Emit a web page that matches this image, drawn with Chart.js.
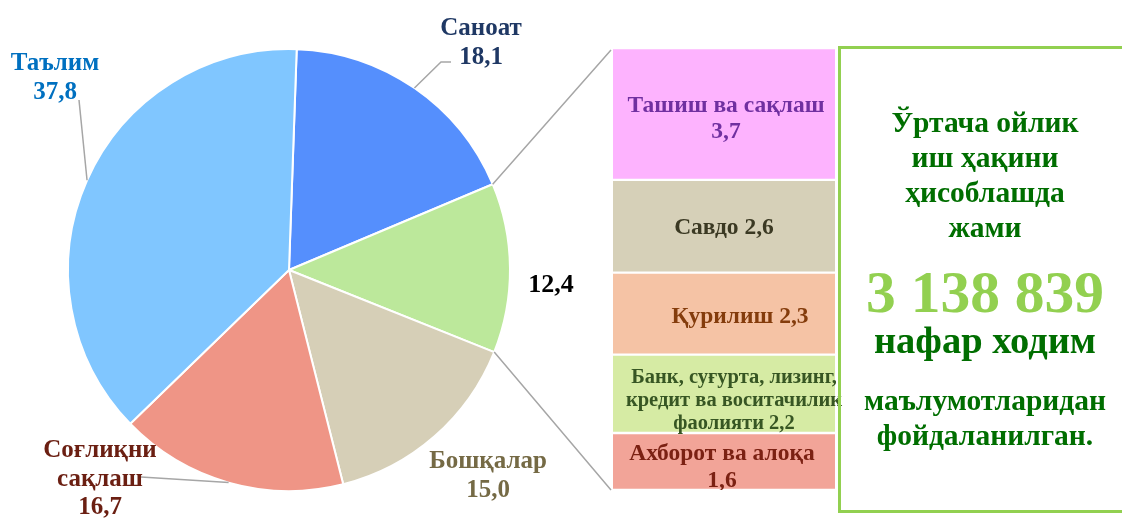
<!DOCTYPE html>
<html>
<head>
<meta charset="utf-8">
<script src="https://cdn.jsdelivr.net/npm/chart.js@4.4.1/dist/chart.umd.min.js"></script>
<style>
  body { margin: 0; background: #fff; }
  #wrap { position: relative; width: 1122px; height: 519px; overflow: hidden; font-family: "Liberation Serif", serif; font-weight: bold; }
  #pie { position: absolute; left: 0; top: 0; }
  #bar { position: absolute; left: 613px; top: 48px; }
  #box { position: absolute; left: 838px; top: 46px; width: 320px; height: 461px; border: 3px solid #92d050; }
  .note { position: absolute; left: 848px; width: 274px; text-align: center; color: #006e00; white-space: nowrap; }
  .t1 { font-size: 29.5px; line-height: 35px; }
  .big { font-size: 59.5px; line-height: 62px; color: #92d050; }
  .t2 { font-size: 38.5px; line-height: 40px; }
</style>
</head>
<body>
<div id="wrap">
  <canvas id="pie" width="1122" height="519"></canvas>
  <canvas id="bar" width="232" height="442"></canvas>
  <div id="box"></div>
  <div class="note t1" style="top:104.5px">Ўртача ойлик<br>иш ҳақини<br>ҳисоблашда<br>жами</div>
  <div class="note big" style="top:261px">3 138 839</div>
  <div class="note t2" style="top:320px">нафар ходим</div>
  <div class="note t1" style="top:382.5px">маълумотларидан<br>фойдаланилган.</div>
</div>
<script>
// pie: share of employees by sector, %
const pieLabels = ["Саноат", "Бошқа тармоқлар", "Бошқалар", "Соғлиқни сақлаш", "Таълим"];
const pieValues = [18.1, 12.4, 15.0, 16.7, 37.8];
const pieColors = ["#558ffd", "#bce89b", "#d6cfb7", "#ef9586", "#80c6ff"];

// breakdown of the 12,4 slice
const barLabels = [["Ташиш ва сақлаш"], ["Савдо"], ["Қурилиш"], ["Банк, суғурта, лизинг,", "кредит ва воситачилик", "фаолияти"], ["Ахборот ва алоқа"]];
const barValues = [3.7, 2.6, 2.3, 2.2, 1.6];
const barColors = ["#fdb3fe", "#d6d0b8", "#f5c3a5", "#d6eba4", "#f2a498"];
const barValueInline = [false, true, true, true, false];

const fmt = v => v.toFixed(1).replace(".", ",");
const FONT = '"Liberation Serif", serif';

// label look for the bar segments
const barText = [
  { color: "#7030a0", size: 23.5, lh: 26, dx: 2, dy: 3 },
  { color: "#3b3923", size: 23.5, lh: 26, dx: 0, dy: 0 },
  { color: "#843c0c", size: 23.5, lh: 26, dx: 16, dy: 2 },
  { color: "#375623", size: 20.5, lh: 23, dx: 10, dy: 5 },
  { color: "#7b2113", size: 23.5, lh: 27, dx: -2, dy: 4 },
];

const barLabelPlugin = {
  id: "barLabels",
  afterDatasetsDraw(chart) {
    const ctx = chart.ctx;
    ctx.save();
    ctx.textAlign = "center";
    ctx.textBaseline = "alphabetic";
    chart.data.datasets.forEach((ds, i) => {
      const el = chart.getDatasetMeta(i).data[0];
      const st = barText[i];
      const lines = barLabels[i].slice();
      if (barValueInline[i]) lines[lines.length - 1] += " " + fmt(barValues[i]);
      else lines.push(fmt(barValues[i]));
      const cy = (el.y + el.base) / 2 + st.dy;
      ctx.font = "bold " + st.size + "px " + FONT;
      ctx.fillStyle = st.color;
      lines.forEach((t, k) => {
        const y = cy - (lines.length - 1) * st.lh / 2 + k * st.lh + 0.33 * st.size;
        ctx.fillText(t, el.x + st.dx, y);
      });
    });
    ctx.restore();
  },
};

const barChart = new Chart(document.getElementById("bar").getContext("2d"), {
  type: "bar",
  data: {
    labels: [""],
    datasets: barValues.map((v, i) => ({
      label: barLabels[i].join(" "),
      data: [v],
      backgroundColor: barColors[i],
      borderColor: "#ffffff",
      borderWidth: { top: 1.5, bottom: 1.5, left: 0, right: 0 },
      borderSkipped: false,
      barPercentage: 1,
      categoryPercentage: 1,
    })),
  },
  options: {
    responsive: false,
    animation: false,
    layout: { padding: { left: 0, right: 10, top: 0, bottom: 0 } },
    scales: {
      x: { stacked: true, display: false },
      y: { stacked: true, display: false, reverse: true, min: 0, max: 12.4 },
    },
    plugins: { legend: { display: false }, tooltip: { enabled: false } },
  },
  plugins: [barLabelPlugin],
});

// pie labels, offsets from the pie centre
const pieText = [
  { lines: ["Саноат", "18,1"], color: "#1f3864", dx: 192, dy: -235, lead: [[152, -208], [162, -208]] },
  { lines: ["12,4"], color: "#000000", dx: 262, dy: 22, lead: null },
  { lines: ["Бошқалар", "15,0"], color: "#756a45", dx: 199, dy: 198, lead: null },
  { lines: ["Соғлиқни", "сақлаш", "16,7"], color: "#6b1f12", dx: -189, dy: 187, lead: [[-148, 207]] },
  { lines: ["Таълим", "37,8"], color: "#0070c0", dx: -234, dy: -200, lead: [[-210, -170]] },
];

const pieLabelPlugin = {
  id: "pieLabels",
  afterDraw(chart) {
    const ctx = chart.ctx;
    const arcs = chart.getDatasetMeta(0).data;
    ctx.save();
    ctx.strokeStyle = "#a6a6a6";
    ctx.lineWidth = 1.5;
    // leader lines from the middle of each slice edge
    arcs.forEach((arc, i) => {
      const p = pieText[i];
      if (!p.lead) return;
      const mid = (arc.startAngle + arc.endAngle) / 2;
      ctx.beginPath();
      ctx.moveTo(arc.x + Math.cos(mid) * arc.outerRadius, arc.y + Math.sin(mid) * arc.outerRadius);
      p.lead.forEach(pt => ctx.lineTo(arc.x + pt[0], arc.y + pt[1]));
      ctx.stroke();
    });
    // connectors from the 12,4 slice to the breakdown bar
    const g = arcs[1];
    const bc = document.getElementById("bar");
    const area = barChart.chartArea;
    const bx = bc.offsetLeft + area.left;
    ctx.beginPath();
    ctx.moveTo(g.x + Math.cos(g.startAngle) * g.outerRadius, g.y + Math.sin(g.startAngle) * g.outerRadius);
    ctx.lineTo(bx - 2, bc.offsetTop + area.top + 2);
    ctx.moveTo(g.x + Math.cos(g.endAngle) * g.outerRadius, g.y + Math.sin(g.endAngle) * g.outerRadius);
    ctx.lineTo(bx - 2, bc.offsetTop + area.bottom);
    ctx.stroke();

    ctx.textAlign = "center";
    ctx.textBaseline = "alphabetic";
    arcs.forEach((arc, i) => {
      const p = pieText[i];
      ctx.font = "bold " + (p.lines.length === 1 ? 26 : 25) + "px " + FONT;
      ctx.fillStyle = p.color;
      p.lines.forEach((t, k) => ctx.fillText(t, arc.x + p.dx, arc.y + p.dy + k * 28.5));
    });
    ctx.restore();
  },
};

new Chart(document.getElementById("pie").getContext("2d"), {
  type: "pie",
  data: {
    labels: pieLabels,
    datasets: [{
      data: pieValues,
      backgroundColor: pieColors,
      borderColor: "#ffffff",
      borderWidth: 2,
    }],
  },
  options: {
    responsive: false,
    animation: false,
    rotation: 2,
    layout: { padding: { left: 67, top: 48, right: 611, bottom: 27 } },
    plugins: { legend: { display: false }, tooltip: { enabled: false } },
  },
  plugins: [pieLabelPlugin],
});
</script>
</body>
</html>
